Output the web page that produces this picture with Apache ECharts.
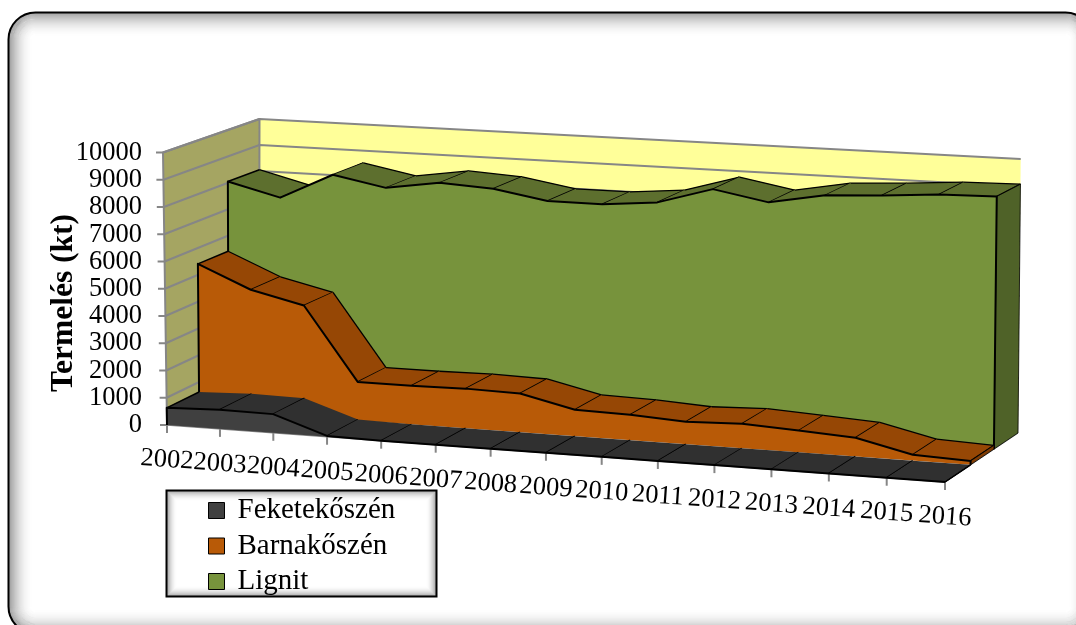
<!DOCTYPE html>
<html><head><meta charset="utf-8">
<style>html,body{margin:0;padding:0;background:#fff}#c{width:1076px;height:625px}</style>
<script src="https://cdn.jsdelivr.net/npm/echarts@6/dist/echarts.min.js"></script>
</head><body><div id="c"></div>
<script>
const years = ['2002','2003','2004','2005','2006','2007','2008','2009','2010','2011','2012','2013','2014','2015','2016'];
const yTicks = [0,1000,2000,3000,4000,5000,6000,7000,8000,9000,10000];
const feketeValues = [630,700,680,30,0,0,0,0,0,0,0,0,0,0,0];
const barnaValues = [5410,4570,4110,1420,1420,1450,1410,960,920,810,885,780,670,210,140];
const lignitValues = [8050,7555,8530,8150,8450,8340,8000,8000,8180,8780,8410,8780,8890,9040,9080];
const FONT = '"Liberation Serif","Times New Roman",serif';

// 3D box corners of the Excel-style chart, and perspective warp along the category axis
const C = {fb:[167,425],ft:[163,152.5],rb:[945,482],rt:[949,195],bfb:[259,379],bft:[259.5,119],brb:[1018,433],brt:[1020.7,159]};
const K = 1.053;
function lerp(a,b,t){return [a[0]+(b[0]-a[0])*t,a[1]+(b[1]-a[1])*t];}
function project(t,v,w){
  const u = t/(t+K*(1-t));
  const front = lerp(lerp(C.fb,C.rb,u),lerp(C.ft,C.rt,u),v);
  const back = lerp(lerp(C.bfb,C.brb,u),lerp(C.bft,C.brt,u),v);
  return lerp(front,back,w);
}
function norm(api,cs,i,val){
  const p = api.coord([i,val]);
  return [(p[0]-cs.x)/cs.width,(cs.y+cs.height-p[1])/cs.height];
}
function poly(points,fill,stroke,lw,z2){
  return {type:'polygon',z2:z2||0,shape:{points},style:{fill:fill,stroke:stroke||null,lineWidth:lw||0,lineJoin:'round'},silent:true};
}
function line(points,stroke,lw,z2){
  return {type:'polyline',z2:z2||0,shape:{points},style:{fill:null,stroke,lineWidth:lw,lineJoin:'round'},silent:true};
}
function areaSeries(name,values,w0,w1,front,top,side,z,backLine){
  return {
    type:'custom',name,z,coordinateSystem:'cartesian2d',silent:true,
    itemStyle:{color:front},
    encode:{x:0,y:1},
    data:values.map((v,i)=>[i,v]),
    renderItem(params,api){
      const cs=params.coordSys, i=params.dataIndex, kids=[], n=values.length;
      if(i<n-1){
        const a=norm(api,cs,i,values[i]), b=norm(api,cs,i+1,values[i+1]);
        const a0=project(a[0],a[1],w0), b0=project(b[0],b[1],w0), b1=project(b[0],b[1],w1), a1=project(a[0],a[1],w1);
        kids.push(poly([a0,b0,b1,a1],top));
        if(backLine) kids.push(line([a1,b1],'#000',1.3));
        kids.push(line([b0,b1],'#000',1.5));
        if(i===0) kids.push(line([a0,a1],'#000',1.5));
      } else {
        const pts=values.map((v,j)=>norm(api,cs,j,v));
        const topLine=pts.map(p=>project(p[0],p[1],w0));
        const last=pts[n-1], first=pts[0];
        kids.push(poly([project(1,last[1],w0),project(1,last[1],w1),project(1,0,w1),project(1,0,w0)],side,'#000',0.8));
        kids.push(poly(topLine.concat([project(1,0,w0),project(first[0],0,w0)]),front));
        kids.push(line([project(first[0],0,w0)].concat(topLine,[project(1,0,w0)]),'#000',2));
      }
      return {type:'group',children:kids};
    }
  };
}
const frameSeries = {
  type:'custom',name:'axes3d',z:1,coordinateSystem:'cartesian2d',silent:true,
  encode:{x:0,y:1},
  data:years.map((y,i)=>[i,0]),
  renderItem(params,api){
    const cs=params.coordSys,i=params.dataIndex,kids=[];
    if(i===0){
      kids.push(poly([project(0,0,0),project(0,1,0),project(0,1,1),project(0,0,1)],'#A5A562'));
      kids.push(poly([project(0,0,1),project(0,1,1),project(1,1,1),project(1,0,1)],'#FFFF99'));
      yTicks.forEach(t=>{
        const v=norm(api,cs,0,t)[1];
        const a=project(0,v,0);
        kids.push(line([[a[0]-7,a[1]],a,project(0,v,1),project(1,v,1)],'#868686',2));
      });
      kids.push(line([project(0,0,0),project(0,1,0),project(0,1,1),project(0,0,1)],'#868686',2));
      kids.push(line([project(1,0,0),project(1,0,1)],'#C8C8C8',1.5));
      kids.push(line([project(0,0,0),project(1,0,0)],'#868686',1.5));
    }
    const t=norm(api,cs,i,0)[0], p=project(t,0,0);
    kids.push(line([p,[p[0],p[1]+8]],'#868686',2));
    kids.push({type:'text',x:p[0],y:p[1]+35,rotation:-0.07,silent:true,
      style:{text:years[i],fill:'#000',font:'26.5px '+FONT,align:'center',verticalAlign:'middle'}});
    return {type:'group',children:kids};
  }
};
// soft inner glow for the rounded chart frame and the legend box
function glowBox(x,y,w,h,r,depth,strength,lw){
  const out=[];
  for(let k=depth;k>=1;k--){
    const a=strength*Math.pow(1-k/(depth+1),2);
    out.push({type:'rect',silent:true,shape:{x:x+k,y:y+k,width:w-2*k,height:h-2*k,r:Math.max(r-k,0)},
      style:{fill:null,stroke:'rgba(0,0,0,'+a.toFixed(3)+')',lineWidth:1.1}});
  }
  out.push({type:'rect',silent:true,shape:{x,y,width:w,height:h,r},style:{fill:null,stroke:'#000',lineWidth:lw}});
  return out;
}
const chart=echarts.init(document.getElementById('c'),null,{renderer:'canvas'});
chart.setOption({
  animation:false,backgroundColor:'#fff',tooltip:{show:false},
  grid:{left:163,top:153,width:782,height:272,containLabel:false},
  xAxis:{type:'category',data:years,boundaryGap:false,show:false},
  yAxis:{type:'value',min:0,max:10000,interval:1000,splitLine:{show:false},axisLine:{show:false},axisTick:{show:false},
    axisLabel:{margin:21,color:'#000',fontFamily:FONT,fontSize:26.5,formatter:v=>String(v)},
    name:'Termelés (kt)',nameLocation:'middle',nameGap:83,nameRotate:90,nameMoveOverlap:false,
    nameTextStyle:{color:'#000',fontFamily:FONT,fontWeight:'bold',fontSize:31.5,padding:[0,28,0,0]}},
  legend:{left:208,top:496,orient:'vertical',padding:0,itemWidth:16,itemHeight:16,itemGap:6.5,icon:'rect',
    data:['Feketekőszén','Barnakőszén','Lignit'],
    itemStyle:{borderColor:'#000',borderWidth:1},
    textStyle:{color:'#000',fontFamily:FONT,fontSize:29,padding:[0,0,0,8]}},
  graphic:{elements:[...glowBox(8.5,12.5,1084,621,27,24,0.38,2),...glowBox(166.5,490.5,270,106,0,10,0.38,2)]},
  series:[frameSeries,
    areaSeries('Lignit',lignitValues,0.67,1,'#77933C','#5D6F2E','#4F6228',2,true),
    areaSeries('Barnakőszén',barnaValues,0.35,0.67,'#B85A07','#964705','#7F3C04',3,true),
    areaSeries('Feketekőszén',feketeValues,0,0.35,'#404040','#303030','#262626',4,false)]
});
</script></body></html>
